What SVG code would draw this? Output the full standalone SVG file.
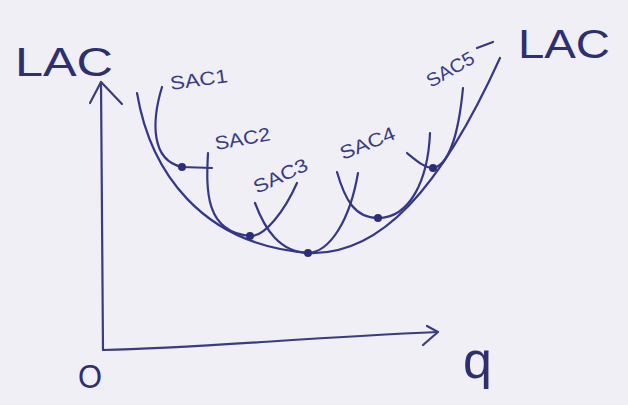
<svg xmlns="http://www.w3.org/2000/svg" width="628" height="405" viewBox="0 0 628 405">
<style>
.ink{fill:none;stroke:#35378a;stroke-width:2.2;stroke-linecap:round;stroke-linejoin:round}
.axis{fill:none;stroke:#3a3b80;stroke-width:2.2;stroke-linecap:round;stroke-linejoin:round}
.dot{fill:#2c2d7a}
.big{font-family:"Liberation Sans",Arial,sans-serif;fill:#2e2f6e}
.lbl{font-family:"Liberation Sans",Arial,sans-serif;font-size:19px;fill:#3a3b85}
</style>
<rect width="628" height="405" fill="#efeff5"/>
<g id="axes">
<path class="axis" d="M103,350 L101,82"/>
<path class="axis" d="M90,103 L101,82 L122,104"/>
<path class="axis" d="M103,350 C200,348 300,338 438,332"/>
<path class="axis" d="M427,326 L438,332 L423,345"/>
<text class="big" x="15" y="76" font-size="40" textLength="98" lengthAdjust="spacingAndGlyphs">LAC</text>
<text class="big" x="78" y="388" font-size="34" fill="#55557a" textLength="24" lengthAdjust="spacingAndGlyphs">O</text>
<text class="big" x="463" y="378" font-size="52" fill="#3a3b85">q</text>
</g>
<g id="LAC">
<path class="ink" d="M137,93 C150,170 200,245 310,253 C380,255 440,190 500,58"/>
<text class="big" x="518" y="58" font-size="40" textLength="92" lengthAdjust="spacingAndGlyphs">LAC</text>
</g>
<g id="SAC1">
<path class="ink" d="M162,87 C152,120 150,160 182,167 L212,168"/>
<circle class="dot" cx="182" cy="167" r="4"/>
<text class="lbl" transform="translate(171,90) rotate(-8)" textLength="58" lengthAdjust="spacingAndGlyphs">SAC1</text>
</g>
<g id="SAC2">
<path class="ink" d="M208,153 C206,190 205,232 250,236 C265,237 285,210 297,183"/>
<circle class="dot" cx="250" cy="236" r="4"/>
<text class="lbl" transform="translate(216,150) rotate(-10)" textLength="56" lengthAdjust="spacingAndGlyphs">SAC2</text>
</g>
<g id="SAC3">
<path class="ink" d="M255,203 C265,230 280,252 308,253 C330,252 350,220 358,173"/>
<circle class="dot" cx="308" cy="253" r="4"/>
<text class="lbl" transform="translate(257,194) rotate(-25)" textLength="58" lengthAdjust="spacingAndGlyphs">SAC3</text>
</g>
<g id="SAC4">
<path class="ink" d="M337,172 C345,200 355,218 378,218 C410,218 428,180 430,133"/>
<circle class="dot" cx="378" cy="218" r="4"/>
<text class="lbl" transform="translate(343,160) rotate(-22)" textLength="58" lengthAdjust="spacingAndGlyphs">SAC4</text>
</g>
<g id="SAC5">
<path class="ink" d="M407,153 C418,162 425,168 433,168 C447,166 458,140 463,88"/>
<circle class="dot" cx="433" cy="168" r="4"/>
<text class="lbl" transform="translate(431,88) rotate(-30)" textLength="52" lengthAdjust="spacingAndGlyphs">SAC5</text>
<path class="ink" stroke-width="1.5" d="M477,48 L493,42"/>
</g>
</svg>
